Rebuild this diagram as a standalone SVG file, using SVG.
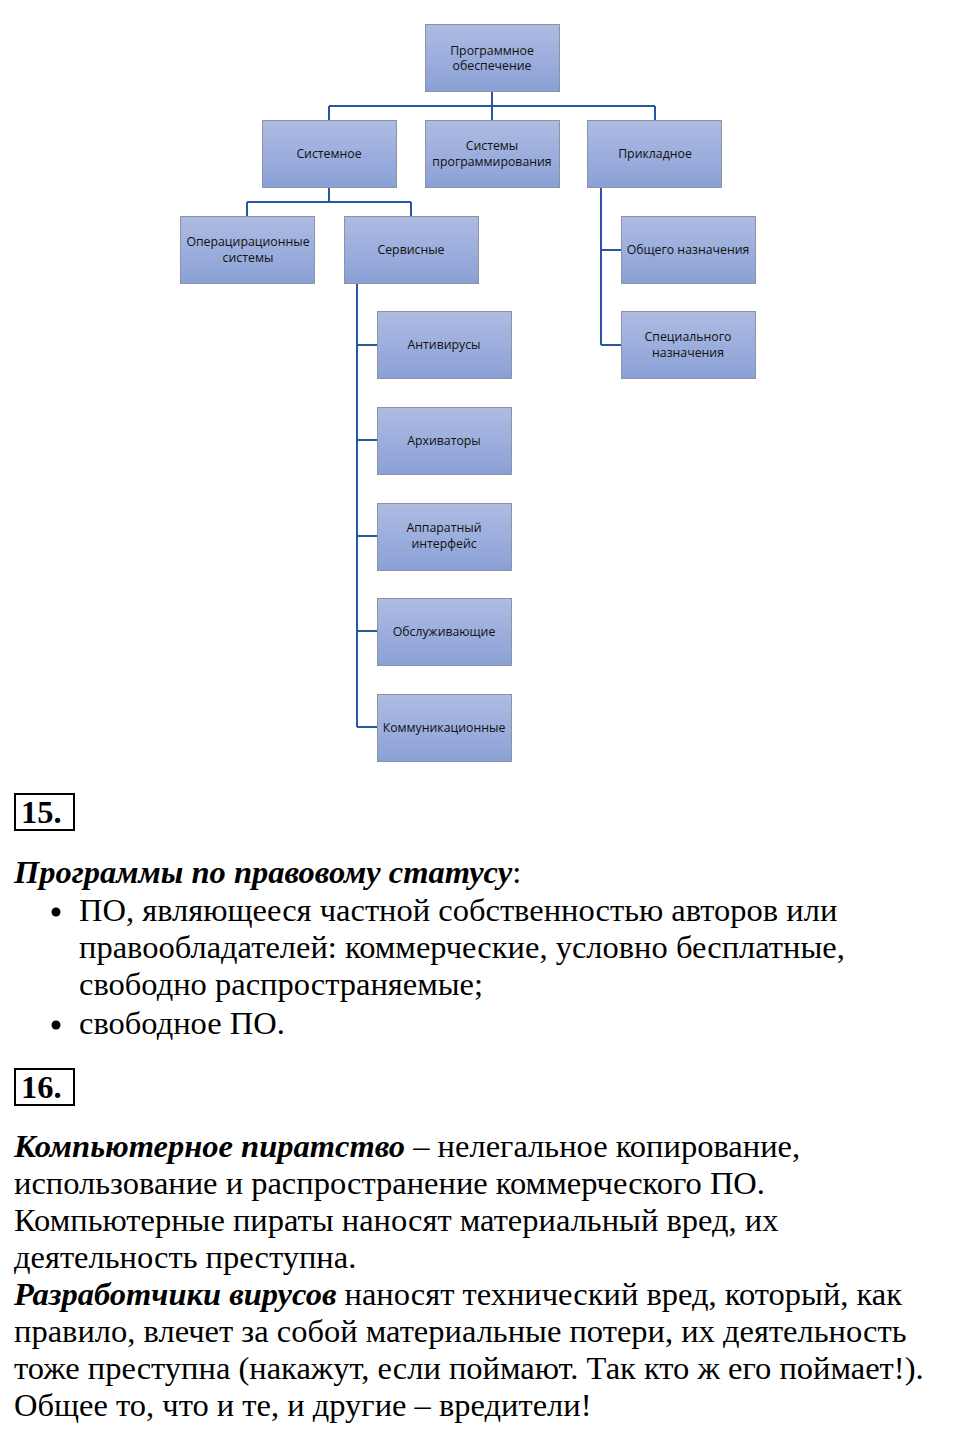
<svg xmlns="http://www.w3.org/2000/svg" width="960" height="1451" viewBox="0 0 960 1451">
<defs>
<linearGradient id="g" x1="0" y1="0" x2="0" y2="1">
<stop offset="0" stop-color="#aebce3"/>
<stop offset="1" stop-color="#8aa0d6"/>
</linearGradient>
</defs>
<style>
.n rect{fill:url(#g);stroke:#8c93a3;stroke-width:1}
.n text{font-family:"Open Sans","Noto Sans",sans-serif;font-size:12.3px;fill:#111;text-anchor:middle}
.c{fill:none;stroke:#2956a5;stroke-width:2}
.t{font-family:"Liberation Serif",serif;font-size:32.5px;fill:#000}
.b{font-weight:bold;font-style:italic}
.box{fill:none;stroke:#000;stroke-width:2}
</style>
<rect width="960" height="1451" fill="#fff"/>
<g id="connectors">
<path class="c" d="M492 91V106M329 106H655M329 106V120M492 106V120M655 106V120"/>
<path class="c" d="M329 187V202M247 202H411M247 202V216M411 202V216"/>
<path class="c" d="M357 283V727M357 345H377M357 440H377M357 536H377M357 631H377M357 727H377"/>
<path class="c" d="M601 187V345M601 250H621M601 345H621"/>
</g>
<g id="n-root" class="n"><rect x="425.5" y="24.5" width="134" height="67"/><text x="492" y="55">Программное</text><text x="492" y="70">обеспечение</text></g>
<g id="n-sys" class="n"><rect x="262.5" y="120.5" width="134" height="67"/><text x="329" y="158">Системное</text></g>
<g id="n-prog" class="n"><rect x="425.5" y="120.5" width="134" height="67"/><text x="492" y="150">Системы</text><text x="492" y="166">программирования</text></g>
<g id="n-app" class="n"><rect x="587.5" y="120.5" width="134" height="67"/><text x="655" y="158">Прикладное</text></g>
<g id="n-os" class="n"><rect x="180.5" y="216.5" width="134" height="67"/><text x="248" y="246">Операцирационные</text><text x="248" y="262">системы</text></g>
<g id="n-serv" class="n"><rect x="344.5" y="216.5" width="134" height="67"/><text x="411" y="254">Сервисные</text></g>
<g id="n-gen" class="n"><rect x="621.5" y="216.5" width="134" height="67"/><text x="688" y="254">Общего назначения</text></g>
<g id="n-spec" class="n"><rect x="621.5" y="311.5" width="134" height="67"/><text x="688" y="341">Специального</text><text x="688" y="357">назначения</text></g>
<g id="n-av" class="n"><rect x="377.5" y="311.5" width="134" height="67"/><text x="444" y="349">Антивирусы</text></g>
<g id="n-arc" class="n"><rect x="377.5" y="407.5" width="134" height="67"/><text x="444" y="445">Архиваторы</text></g>
<g id="n-hw" class="n"><rect x="377.5" y="503.5" width="134" height="67"/><text x="444" y="532">Аппаратный</text><text x="444" y="548">интерфейс</text></g>
<g id="n-srv" class="n"><rect x="377.5" y="598.5" width="134" height="67"/><text x="444" y="636">Обслуживающие</text></g>
<g id="n-com" class="n"><rect x="377.5" y="694.5" width="134" height="67"/><text x="444" y="732">Коммуникационные</text></g>

<rect class="box" x="15" y="794" width="59" height="36"/>
<text class="t" x="21" y="823" font-weight="bold">15.</text>
<text class="t" x="14" y="883"><tspan class="b">Программы по правовому статусу</tspan>:</text>
<circle cx="56" cy="912" r="4.5" fill="#000"/>
<text class="t" x="79" y="921">ПО, являющееся частной собственностью авторов или</text>
<text class="t" x="79" y="958">правообладателей: коммерческие, условно бесплатные,</text>
<text class="t" x="79" y="995">свободно распространяемые;</text>
<circle cx="56" cy="1025" r="4.5" fill="#000"/>
<text class="t" x="79" y="1034">свободное ПО.</text>

<rect class="box" x="15" y="1069" width="59" height="36"/>
<text class="t" x="21" y="1098" font-weight="bold">16.</text>
<text class="t" x="14" y="1157"><tspan class="b">Компьютерное пиратство</tspan> – нелегальное копирование,</text>
<text class="t" x="14" y="1194">использование и распространение коммерческого ПО.</text>
<text class="t" x="14" y="1231">Компьютерные пираты наносят материальный вред, их</text>
<text class="t" x="14" y="1268">деятельность преступна.</text>
<text class="t" x="14" y="1305"><tspan class="b">Разработчики вирусов</tspan> наносят технический вред, который, как</text>
<text class="t" x="14" y="1342">правило, влечет за собой материальные потери, их деятельность</text>
<text class="t" x="14" y="1379">тоже преступна (накажут, если поймают. Так кто ж его поймает!).</text>
<text class="t" x="14" y="1416">Общее то, что и те, и другие – вредители!</text>
</svg>
